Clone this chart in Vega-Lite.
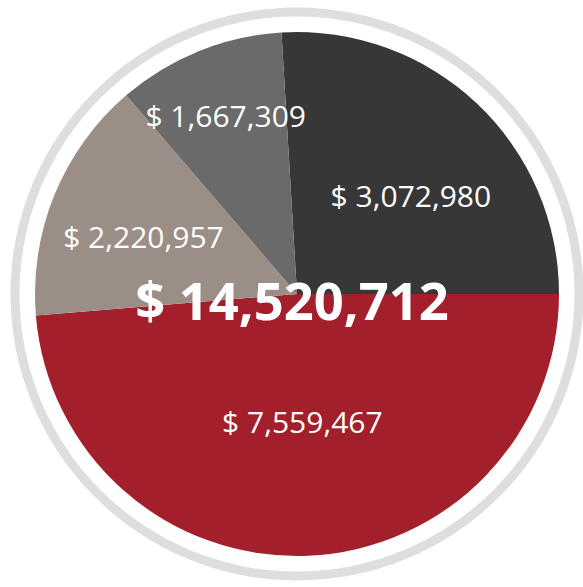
{
  "$schema": "https://vega.github.io/schema/vega-lite/v6.json",
  "width": 572,
  "height": 588,
  "autosize": "none",
  "padding": {"left": 11, "top": 0, "right": 0, "bottom": 0},
  "background": "white",
  "view": {"stroke": null},
  "datasets": {
    "slices": [
      {"segment": "dark", "amount": 3072980, "label": "$ 3,072,980", "share": 93.4, "order": 1},
      {"segment": "red", "amount": 7559467, "label": "$ 7,559,467", "share": 175.3, "order": 2},
      {"segment": "taupe", "amount": 2220957, "label": "$ 2,220,957", "share": 54.0, "order": 3},
      {"segment": "grey", "amount": 1667309, "label": "$ 1,667,309", "share": 37.3, "order": 4}
    ],
    "total": [{"label": "$ 14,520,712", "amount": 14520712}]
  },
  "resolve": {"scale": {"theta": "independent"}},
  "layer": [
    {
      "data": {"name": "total"},
      "mark": {"type": "arc", "innerRadius": 277.5, "outerRadius": 286.5, "fill": "#dedede"},
      "encoding": {"theta": {"field": "amount", "type": "quantitative"}}
    },
    {
      "data": {"name": "slices"},
      "mark": {"type": "arc", "outerRadius": 262},
      "encoding": {
        "theta": {"field": "share", "type": "quantitative", "stack": true, "scale": {"range": [-0.0593, 6.2239]}},
        "order": {"field": "order", "type": "quantitative"},
        "color": {
          "field": "segment", "type": "nominal", "legend": null,
          "scale": {"domain": ["dark", "red", "taupe", "grey"], "range": ["#373737", "#a31f2b", "#9b8e86", "#6a6a6a"]}
        }
      }
    },
    {
      "data": {"name": "slices"},
      "mark": {
        "type": "text", "font": "Open Sans", "fontSize": 30, "color": "white", "baseline": "middle", "align": "center",
        "radius": {"expr": "datum.segment == 'red' ? 130 : datum.segment == 'dark' ? 150 : datum.segment == 'taupe' ? 166 : 190"},
        "dx": {"expr": "datum.segment == 'dark' ? 11 : 0"},
        "dy": {"expr": "datum.segment == 'dark' ? 13 : datum.segment == 'taupe' ? 8 : 0"}
      },
      "encoding": {
        "theta": {"field": "share", "type": "quantitative", "stack": true, "scale": {"range": [-0.0593, 6.2239]}},
        "order": {"field": "order", "type": "quantitative"},
        "detail": {"field": "segment", "type": "nominal"},
        "text": {"field": "label", "type": "nominal"}
      }
    },
    {
      "data": {"name": "total"},
      "mark": {"type": "text", "font": "Open Sans", "fontSize": 52.5, "fontWeight": "bold", "color": "white", "baseline": "middle", "align": "center", "dx": -5, "dy": 10},
      "encoding": {"text": {"field": "label", "type": "nominal"}}
    }
  ]
}
